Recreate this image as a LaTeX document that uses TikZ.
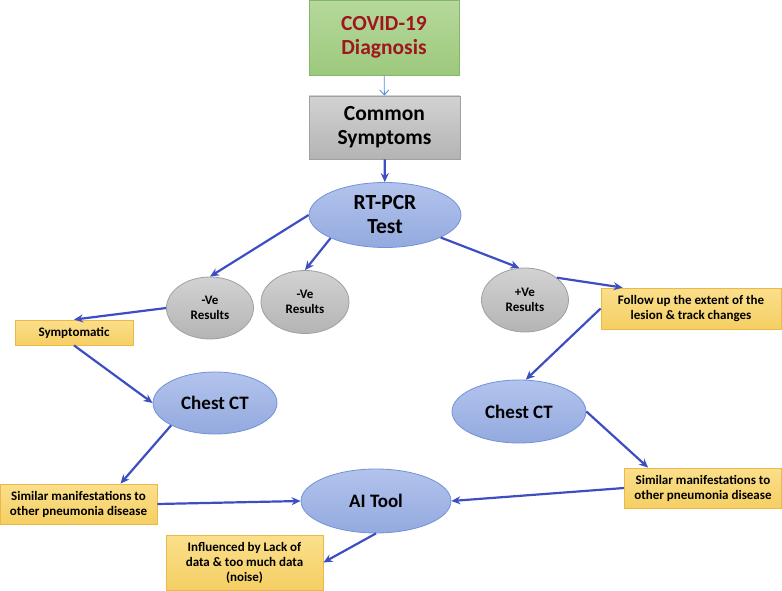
\documentclass[tikz,border=0pt]{standalone}
\usepackage{fontspec}
\setmainfont{Carlito}
\usetikzlibrary{arrows.meta,shapes.geometric}
\definecolor{flowBlue}{HTML}{3D4EC3}
\definecolor{thinBlue}{HTML}{5B8FD6}
\definecolor{covidRed}{HTML}{A0161E}
\definecolor{greenTop}{HTML}{B6D89C}
\definecolor{greenBot}{HTML}{9CC97C}
\definecolor{greenEdge}{HTML}{82B866}
\definecolor{grayTop}{HTML}{D2D2D2}
\definecolor{grayBot}{HTML}{B4B4B4}
\definecolor{grayEdge}{HTML}{A0A0A0}
\definecolor{ovalTop}{HTML}{B3C3EC}
\definecolor{ovalBot}{HTML}{93AADF}
\definecolor{ovalEdge}{HTML}{7391DA}
\definecolor{noteTop}{HTML}{FADF8C}
\definecolor{noteBot}{HTML}{F5CF63}
\definecolor{noteEdge}{HTML}{EDB84A}

\begin{document}
\begin{tikzpicture}[x=1pt,y=-1pt,font=\bfseries,
  hugetxt/.style={font=\bfseries\fontsize{21.5}{24}\selectfont},
  bigtxt/.style={font=\bfseries\fontsize{19}{22}\selectfont},
  smalltxt/.style={font=\bfseries\fontsize{13}{15}\selectfont},
  headbox/.style={rectangle,draw=grayEdge,top color=grayTop,bottom color=grayBot,line width=0.8pt,align=center,inner sep=0pt,hugetxt},
  bubble/.style={ellipse,draw=ovalEdge,top color=ovalTop,bottom color=ovalBot,line width=0.8pt,align=center,inner sep=0pt,bigtxt},
  greybubble/.style={ellipse,draw=grayEdge,top color=grayTop,bottom color=grayBot,line width=0.8pt,align=center,inner sep=0pt,smalltxt},
  note/.style={rectangle,draw=noteEdge,top color=noteTop,bottom color=noteBot,line width=0.8pt,align=center,inner sep=0pt,smalltxt},
  flow/.style={draw=flowBlue,line width=2.2pt,-{Stealth[length=9pt,width=8pt]}}]
  \useasboundingbox (0,0) rectangle (782,591);
  % top boxes
  \node[headbox,draw=greenEdge,top color=greenTop,bottom color=greenBot,text=covidRed,
    minimum width=150,minimum height=75] (covid) at (384,37.5) {COVID-19\\Diagnosis};
  \node[headbox,minimum width=151,minimum height=63] (common) at (384.5,127.5) {Common\\Symptoms};
  % test and results
  \node[bubble,hugetxt,minimum width=152,minimum height=65] (rtpcr) at (385,215) {RT-PCR\\Test};
  \node[greybubble,minimum width=87,minimum height=62] (neg1) at (210,308) {-Ve\\Results};
  \node[greybubble,minimum width=88,minimum height=63] (neg2) at (305,302) {-Ve\\Results};
  \node[greybubble,minimum width=87,minimum height=64] (pos) at (525,300) {+Ve\\Results};
  \node[note,minimum width=118,minimum height=25] (sympt) at (74,332.5) {Symptomatic};
  \node[note,minimum width=180,minimum height=41] (follow) at (691,308.5) {Follow up the extent of the\\lesion \& track changes};
  % chest CT and AI
  \node[bubble,minimum width=124,minimum height=62] (ctl) at (215,403) {Chest CT};
  \node[bubble,minimum width=134,minimum height=63] (ctr) at (519,411.5) {Chest CT};
  \node[note,minimum width=157,minimum height=40] (siml) at (78.5,504) {Similar manifestations to\\other pneumonia disease};
  \node[note,minimum width=157,minimum height=40] (simr) at (703,488) {Similar manifestations to\\other pneumonia disease};
  \node[bubble,minimum width=150,minimum height=64] (ai) at (376,501) {AI Tool};
  \node[note,minimum width=157,minimum height=55] (infl) at (244.5,562.5) {Influenced by Lack of\\data \& too much data\\(noise)};

  \draw[draw=thinBlue,line width=0.9pt,-{Straight Barb[length=5pt,width=9pt]}] (covid) -- (common);
  \draw[flow] (common) -- (rtpcr);
  \draw[flow] (rtpcr.west) -- (neg1.north);
  \draw[flow] (rtpcr.203) -- (neg2.north);
  \draw[flow] (rtpcr.-22) -- (pos.100);
  \draw[flow] (neg1.west) -- (sympt.north);
  \draw[flow] (sympt.south) -- (ctl.west);
  \draw[flow] (pos.35) -- ([xshift=22pt]follow.north west);
  \draw[flow] (follow.west) -- (ctr.78);
  \draw[flow] (ctl.207) -- ([xshift=42pt]siml.north);
  \draw[flow] (ctr.east) -- ([xshift=24pt]simr.north west);
  \draw[flow] (siml.east) -- (ai.west);
  \draw[flow] (simr.west) -- (ai.east);
  \draw[flow] (ai.south) -- (infl.east);
\end{tikzpicture}
\end{document}
